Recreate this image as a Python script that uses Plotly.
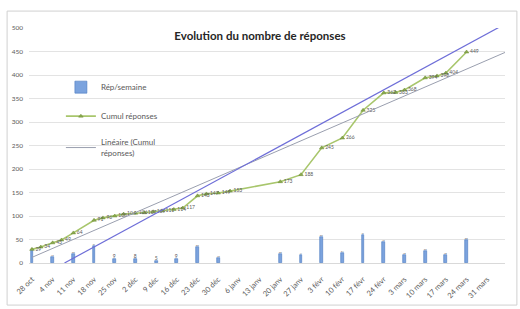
import plotly.graph_objects as go

# ---------------- data ----------------
tick_dates = ["2018-10-28", "2018-11-04", "2018-11-11", "2018-11-18", "2018-11-25",
              "2018-12-02", "2018-12-09", "2018-12-16", "2018-12-23", "2018-12-30",
              "2019-01-06", "2019-01-13", "2019-01-20", "2019-01-27", "2019-02-03",
              "2019-02-10", "2019-02-17", "2019-02-24", "2019-03-03", "2019-03-10",
              "2019-03-17", "2019-03-24", "2019-03-31"]
tick_labels = ["28 oct", "4 nov", "11 nov", "18 nov", "25 nov", "2 déc", "9 déc",
               "16 déc", "23 déc", "30 déc", "6 janv", "13 janv", "20 janv",
               "27 janv", "3 févr", "10 févr", "17 févr", "24 févr", "3 mars",
               "10 mars", "17 mars", "24 mars", "31 mars"]

week_dates = ["2018-10-28", "2018-11-04", "2018-11-11", "2018-11-18", "2018-11-25",
              "2018-12-02", "2018-12-09", "2018-12-16", "2018-12-23", "2018-12-30",
              "2019-01-20", "2019-01-27", "2019-02-03", "2019-02-10", "2019-02-17",
              "2019-02-24", "2019-03-03", "2019-03-10", "2019-03-17", "2019-03-24"]
rep_semaine = [28, 13, 20, 36, 9, 8, 5, 9, 33, 10, 20, 17, 55, 21, 59, 45, 18, 25, 18, 50]

cumul_dates = ["2018-10-28", "2018-10-31", "2018-11-04", "2018-11-07", "2018-11-11",
               "2018-11-18", "2018-11-21", "2018-11-25", "2018-11-28", "2018-12-02",
               "2018-12-05", "2018-12-08", "2018-12-11", "2018-12-15", "2018-12-18",
               "2018-12-23", "2018-12-26", "2018-12-30", "2019-01-03", "2019-01-20",
               "2019-01-27", "2019-02-03", "2019-02-10", "2019-02-17", "2019-02-24",
               "2019-02-28", "2019-03-03", "2019-03-10", "2019-03-14", "2019-03-17",
               "2019-03-24"]
cumul_rep = [29, 34, 43, 49, 64, 91, 96, 100, 104, 106, 107, 109, 111, 114, 117,
             143, 147, 149, 153, 173, 188, 245, 266, 325, 362, 363, 368, 394, 398,
             404, 449]

# linear trendline of the cumulative series
trend_dates = ["2018-10-28", "2019-04-06"]
trend_vals = [12, 448]

# straight target line
objectif_dates = ["2018-11-08", "2019-04-05"]
objectif_vals = [0, 505]

FONT = "Lato, Open Sans, sans-serif"
GRAY = "#595959"

fig = go.Figure()

fig.add_trace(go.Bar(
    x=week_dates, y=rep_semaine, name="Rép/semaine",
    width=0.95 * 86400000,
    marker=dict(color="#7BA3DE", line=dict(color="#4A78C0", width=0.6)),
    text=[str(v) for v in rep_semaine], textposition="outside",
    textfont=dict(size=5, color=GRAY), cliponaxis=False,
    legendgroup="a",
))

fig.add_trace(go.Scatter(
    x=cumul_dates, y=cumul_rep, name="Cumul réponses",
    mode="lines+markers+text",
    line=dict(color="#A8C66C", width=1.6),
    marker=dict(symbol="triangle-up", size=4, color="#8AAA4C",
                line=dict(color="#6E8A38", width=0.5)),
    text=[str(v) for v in cumul_rep], textposition="middle right",
    textfont=dict(size=5, color=GRAY), cliponaxis=False,
    legendgroup="b",
))

fig.add_trace(go.Scatter(
    x=trend_dates, y=trend_vals, name="Linéaire (Cumul<br>réponses)",
    mode="lines", line=dict(color="#9A9FAF", width=1),
    legendgroup="c",
))

fig.add_trace(go.Scatter(
    x=objectif_dates, y=objectif_vals, mode="lines+markers",
    line=dict(color="#6E6ED8", width=1.2),
    marker=dict(size=[0, 4], color="#6E6ED8"),
    showlegend=False, cliponaxis=False,
))

fig.update_layout(
    width=520, height=309,
    margin=dict(l=27, r=15, t=28, b=46),
    paper_bgcolor="white", plot_bgcolor="white",
    font=dict(family=FONT, color=GRAY),
    title=dict(text="<b>Evolution du nombre de réponses</b>",
               x=0.5, xanchor="center", y=1 - 36 / 309, yanchor="middle",
               font=dict(size=11.5, color="#262626", family=FONT)),
    showlegend=True,
    legend=dict(x=0.067, y=0.81, xanchor="left", yanchor="top",
                font=dict(size=8, color=GRAY), bgcolor="rgba(0,0,0,0)",
                tracegroupgap=10, itemwidth=30),
    bargap=0,
    shapes=[dict(type="rect", xref="paper", yref="paper",
                 x0=-0.046, x1=1.025, y0=-0.179, y1=1.072,
                 line=dict(color="#D0D0D0", width=1), layer="below")],
)

fig.update_xaxes(
    type="date", range=["2018-10-27", "2019-04-06"],
    tickvals=tick_dates, ticktext=tick_labels, tickangle=-45,
    tickfont=dict(size=7.5, color=GRAY), showgrid=False,
    showline=True, linecolor="#D9D9D9", linewidth=1, ticks="",
    ticklabelstandoff=8, automargin=False,
)
fig.update_yaxes(
    range=[0, 500], dtick=50, tickfont=dict(size=6.5, color=GRAY),
    showgrid=True, gridcolor="#E3E3E3", gridwidth=1,
    zeroline=False, showline=False, ticks="", ticklabelstandoff=5,
)

fig.write_html("out.html", config={"displayModeBar": False},
               post_script="document.body.style.margin='0';")
